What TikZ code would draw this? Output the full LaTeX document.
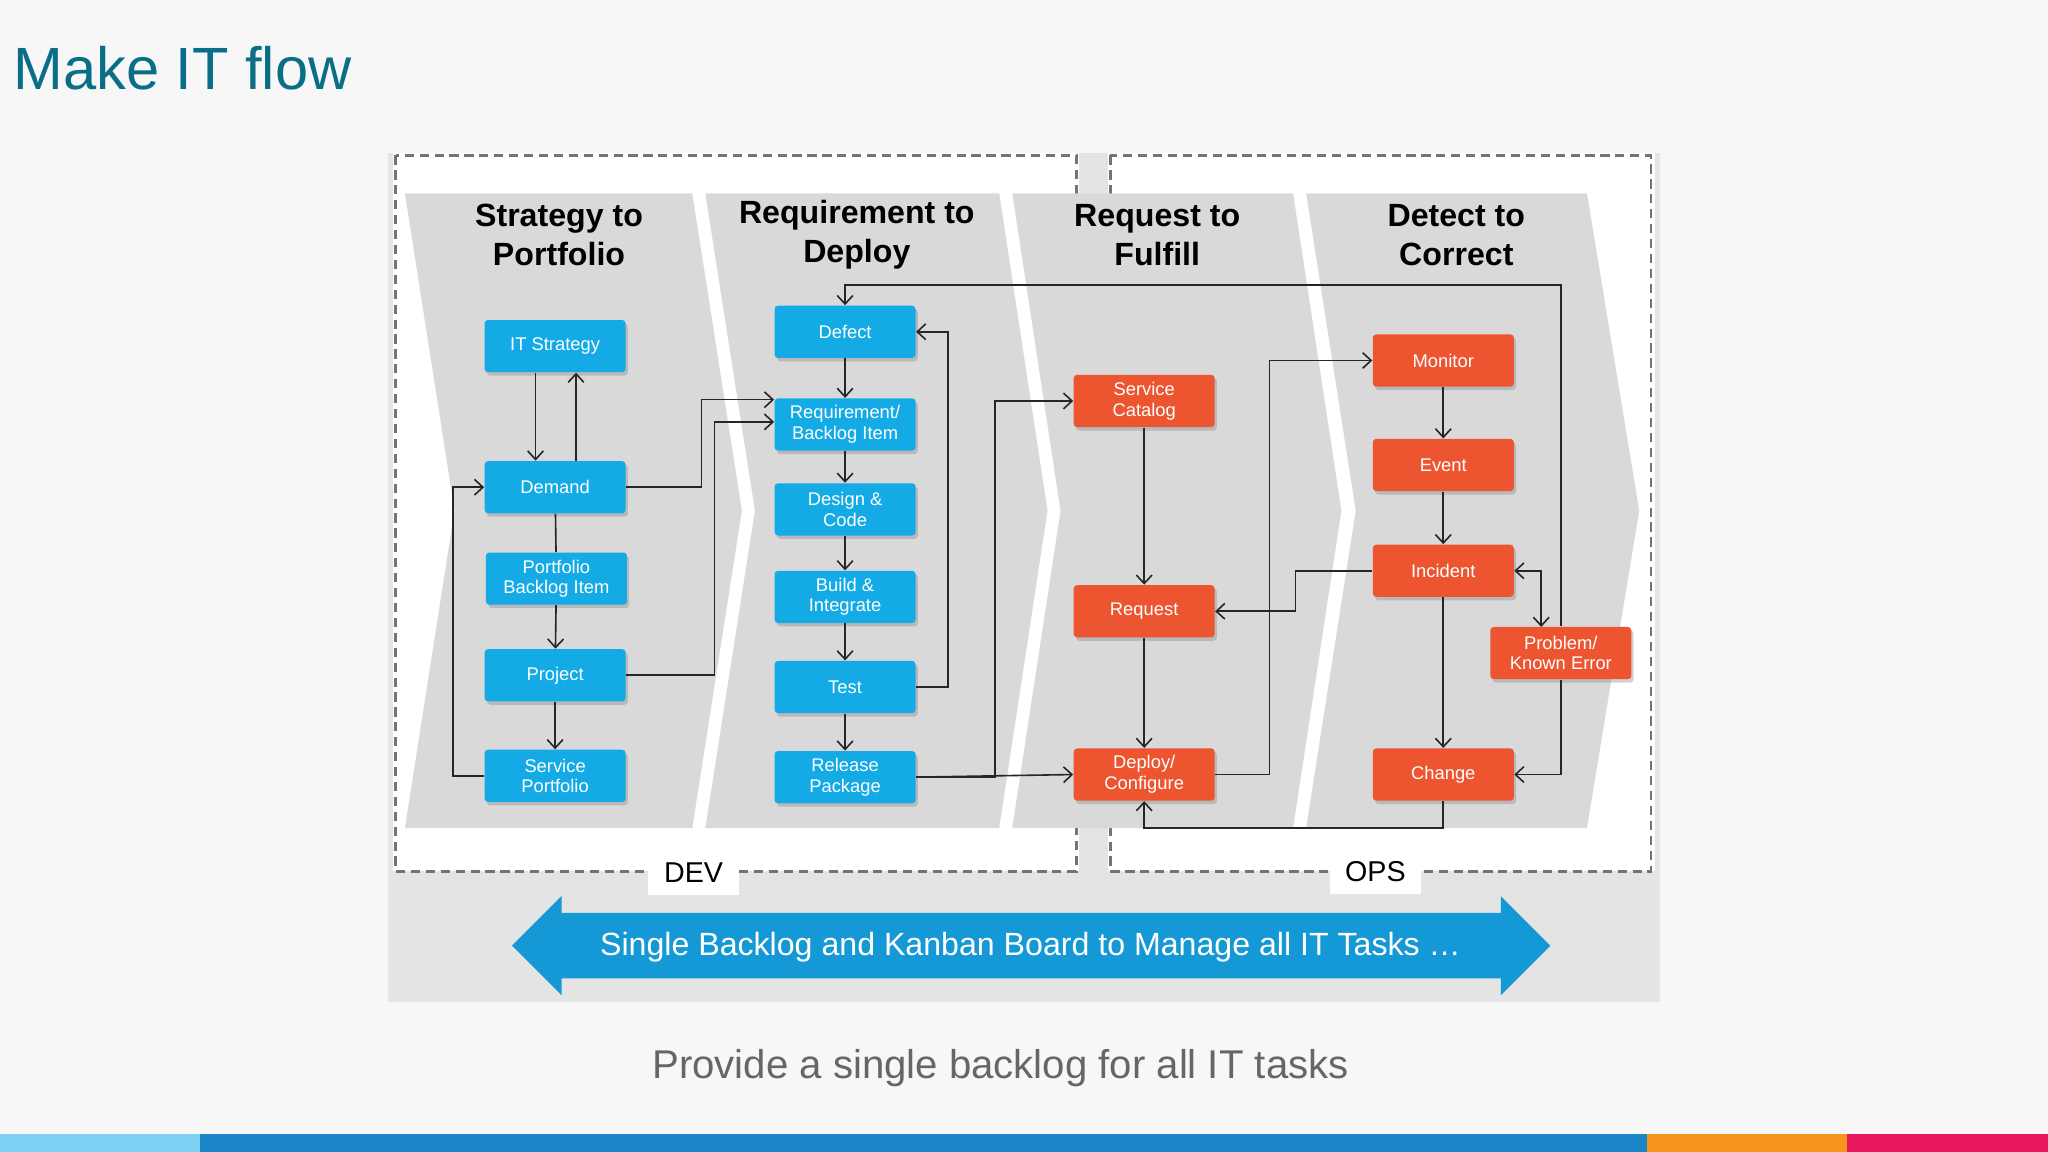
\documentclass[tikz,border=0pt]{standalone}
\usepackage{fontspec}
\setmainfont{Liberation Sans}
\usetikzlibrary{arrows.meta,shadows}
\definecolor{bgc}{HTML}{F7F7F8}
\definecolor{panel}{HTML}{E4E4E4}
\definecolor{chev}{HTML}{D9D9D9}
\definecolor{bluen}{HTML}{14AAE6}
\definecolor{orn}{HTML}{EC5530}
\definecolor{teal}{HTML}{0A6E86}
\definecolor{arrb}{HTML}{1598D6}
\definecolor{barA}{HTML}{7FD0F5}
\definecolor{barB}{HTML}{1A86C8}
\definecolor{barC}{HTML}{F7941D}
\definecolor{barD}{HTML}{E8175D}
\tikzset{
 box/.style={minimum width=2.16cm,minimum height=0.8cm,rounded corners=1.5pt,text=white,align=center,font=\fontsize{8}{9}\selectfont,inner sep=1pt,drop shadow={opacity=0.35,shadow xshift=1pt,shadow yshift=-1.5pt}},
 bb/.style={box,fill=bluen},
 ob/.style={box,fill=orn},
 cn/.style={draw=black!85,line width=0.7pt,-{Straight Barb[length=1.3mm,width=2.4mm]}},
 pl/.style={draw=black!85,line width=0.7pt},
 ttl/.style={font=\fontsize{14}{17}\selectfont\bfseries,align=center},
 dsh/.style={draw=black!55,line width=1.2pt,dash pattern=on 4pt off 2.5pt}
}
\begin{document}
\begin{tikzpicture}[x=0.02cm,y=-0.02cm]
\useasboundingbox (0,0) rectangle (1568,882);
\fill[bgc] (0,0) rectangle (1568,882);
\node[anchor=west,text=teal,font=\fontsize{26}{30}\selectfont] (title) at (4,52) {Make IT flow};
% panel
\fill[panel] (297,117) rectangle (1271,767);
\fill[white] (301,117) rectangle (826,667);
\fill[white] (848,117) rectangle (1267,667);
\draw[dsh] (303,119) rectangle (824,667);
\draw[dsh] (850,119) rectangle (1264,667);
% chevrons
\fill[chev] (310,148) -- (530,148) -- (568,391) -- (530,634) -- (310,634) -- (348,391) -- cycle;
\fill[chev] (540,148) -- (765,148) -- (802,391) -- (765,634) -- (540,634) -- (578,391) -- cycle;
\fill[chev] (775,148) -- (990,148) -- (1027,391) -- (990,634) -- (775,634) -- (812,391) -- cycle;
\fill[chev] (1000,148) -- (1215,148) -- (1255,391) -- (1215,634) -- (1000,634) -- (1038,391) -- cycle;
\node[ttl] (t1) at (428,180) {Strategy to\\Portfolio};
\node[ttl] (t2) at (656,180) {Requirement to\\Deploy};
\node[ttl] (t3) at (886,180) {Request to\\Fulfill};
\node[ttl] (t4) at (1115,180) {Detect to\\Correct};
% nodes
\node[bb] (its) at (425,265) {IT Strategy};
\node[bb] (dem) at (425,373) {Demand};
\node[bb] (pbi) at (426,443) {Portfolio\\Backlog Item};
\node[bb] (prj) at (425,517) {Project};
\node[bb] (spf) at (425,594) {Service\\Portfolio};
\node[bb] (def) at (647,254) {Defect};
\node[bb] (req) at (647,325) {Requirement/\\Backlog Item};
\node[bb] (dsc) at (647,390) {Design \&\\Code};
\node[bb] (bld) at (647,457) {Build \&\\Integrate};
\node[bb] (tst) at (647,526) {Test};
\node[bb] (rel) at (647,595) {Release\\Package};
\node[ob] (sct) at (876,307) {Service\\Catalog};
\node[ob] (rqs) at (876,468) {Request};
\node[ob] (dep) at (876,593) {Deploy/\\Configure};
\node[ob] (mon) at (1105,276) {Monitor};
\node[ob] (evt) at (1105,356) {Event};
\node[ob] (inc) at (1105,437) {Incident};
\node[ob] (pke) at (1195,500) {Problem/\\Known Error};
\node[ob] (chg) at (1105,593) {Change};
% connectors
\draw[cn] (its.south -| 410,0) -- (dem.north -| 410,0);
\draw[cn] (dem.north -| 441,0) -- (its.south -| 441,0);
\draw[pl] (dem) -- (pbi);
\draw[cn] (pbi) -- (prj);
\draw[cn] (prj) -- (spf);
\draw[cn] (spf.west) -| (347,373) -- (dem.west);
\draw[cn] (dem.east) -| (537,306) -- (req.west |- 0,306);
\draw[cn] (prj.east) -| (547,323) -- (req.west |- 0,323);
\draw[cn] (def) -- (req);
\draw[cn] (req) -- (dsc);
\draw[cn] (dsc) -- (bld);
\draw[cn] (bld) -- (tst);
\draw[cn] (tst) -- (rel);
\draw[cn] (tst.east) -| (726,254) -- (def.east);
\draw[cn] (rel.east) -- (dep.west);
\draw[cn] (rel.east) -| (762,307) -- (sct.west);
\draw[cn] (sct) -- (rqs);
\draw[cn] (rqs) -- (dep);
\draw[cn] (dep.east) -| (972,276) -- (mon.west);
\draw[cn] (mon) -- (evt);
\draw[cn] (evt) -- (inc);
\draw[cn] (inc) -- (chg);
\draw[cn] (inc.west) -| (992,468) -- (rqs.east);
\draw[cn,{Straight Barb[length=1.3mm,width=2.4mm]}-{Straight Barb[length=1.3mm,width=2.4mm]}] (inc.east) -| (1180,480);
\draw[cn] (pke.south) |- (chg.east);
\draw[cn] (pke.north) -- (1195,218) -| (def.north);
\draw[cn] (chg.south) -- (1105,634) -| (dep.south);
% DEV / OPS
\node[fill=white,font=\fontsize{12.5}{14}\selectfont,minimum width=1.4cm,minimum height=0.7cm] (dev) at (531,668) {DEV};
\node[fill=white,font=\fontsize{12.5}{14}\selectfont,minimum width=1.4cm,minimum height=0.7cm] (ops) at (1053,667) {OPS};
% big arrow
\fill[arrb] (392,724) -- (430,686) -- (430,699) -- (1149,699) -- (1149,686) -- (1187,724) -- (1149,762) -- (1149,749) -- (430,749) -- (430,762) -- cycle;
\node[text=white,font=\fontsize{14}{16}\selectfont] (bar) at (789,725) {Single Backlog and Kanban Board to Manage all IT Tasks \dots};
\node[text=black!60,font=\fontsize{17.5}{20}\selectfont] (sub) at (766,818) {Provide a single backlog for all IT tasks};
% bottom bar
\fill[barA] (0,868) rectangle (153,882);
\fill[barB] (153,868) rectangle (1261,882);
\fill[barC] (1261,868) rectangle (1414,882);
\fill[barD] (1414,868) rectangle (1568,882);
\end{tikzpicture}
\end{document}
